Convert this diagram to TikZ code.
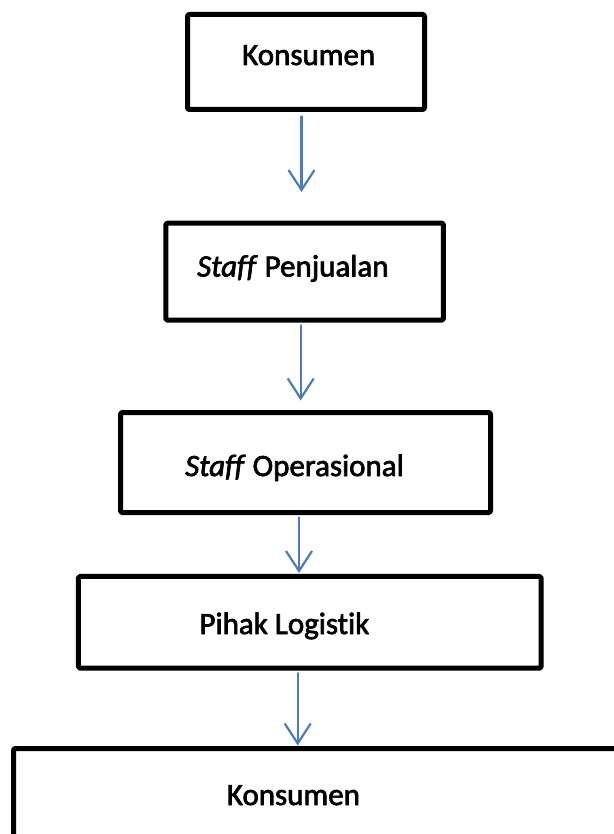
\documentclass[tikz,border=0pt]{standalone}
\usepackage{fontspec}
\setmainfont{Carlito}[FakeBold=2.2,Ligatures=NoCommon]
\usepackage{tikz}
\usetikzlibrary{arrows.meta}
\definecolor{flowblue}{rgb}{0.29,0.49,0.73}

\begin{document}
\begin{tikzpicture}[line cap=round,line join=round,x=1pt,y=-1pt,
  >={Straight Barb[length=20pt,width=26pt]},
  box/.style={draw=black,line width=5pt,rounded corners=1.5pt,inner sep=0pt},
  flow/.style={->,color=flowblue,line width=2.2pt},
  label/.style={anchor=base west,inner sep=0pt,font=\fontsize{31}{36}\selectfont}]

\useasboundingbox (0,0) rectangle (613,834);
% boxes
\node[box,minimum width=237pt,minimum height=95pt] (konsumenA) at (306,62) {};
\node[box,minimum width=277.7pt,minimum height=97pt] (penjualan) at (304.6,271.7) {};
\node[box,minimum width=370pt,minimum height=100pt] (operasional) at (305.5,462.5) {};
\node[box,minimum width=462.7pt,minimum height=91.7pt] (logistik) at (309.8,622.3) {};
\node[box,minimum width=626.5pt,minimum height=151.5pt] (konsumenB) at (326.75,824.25) {};
% texts
\draw (242,65) node[label] (tKonsumenA) {Konsumen};
\draw (197,276.5) node[label] (tPenjualan) {\textit{Staff} Penjualan};
\draw (185,476) node[label] (tOperasional) {\textit{Staff} Operasional};
\draw (199.3,634) node[label] (tLogistik) {Pihak Logistik};
\draw (226.7,805) node[label] (tKonsumenB) {Konsumen};
% arrows
\coordinate (tip1) at (301.5,192);
\coordinate (tip2) at (300.7,400.5);
\coordinate (tip3) at (299,573);
\coordinate (tip4) at (297.7,745.5);
\draw[flow,shorten <=4.5pt] (konsumenA.south -| tip1) -- (tip1);
\draw[flow,shorten <=2.5pt] (penjualan.south -| tip2) -- (tip2);
\draw[flow,shorten <=2.5pt] (operasional.south -| tip3) -- (tip3);
\draw[flow,shorten <=2.5pt] (logistik.south -| tip4) -- (tip4);

\end{tikzpicture}
\end{document}
